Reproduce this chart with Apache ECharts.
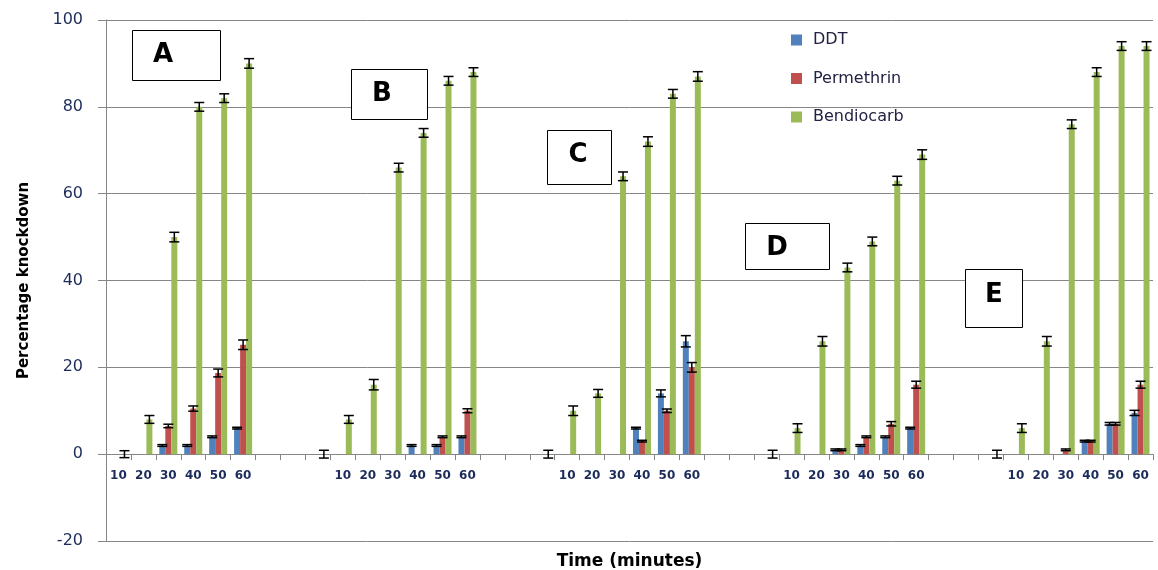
<!DOCTYPE html>
<html>
<head>
<meta charset="utf-8">
<title>Percentage knockdown over time</title>
<script src="https://cdn.jsdelivr.net/npm/echarts@6/dist/echarts.min.js"></script>
<style>
  html, body { margin: 0; padding: 0; background: #ffffff; }
  #chart { width: 1158px; height: 570px; }
</style>
</head>
<body>
<div id="chart"></div>
<script>
// Time labels for each slot on the category axis ('' = unlabelled slot)
const timeLabels = [
  '10','20','30','40','50','60',
  '','','',
  '10','20','30','40','50','60',
  '','','',
  '10','20','30','40','50','60',
  '','','',
  '10','20','30','40','50','60',
  '','','',
  '10','20','30','40','50','60'
];

// Panel letters A–E
const panelLetters = ['A', 'B', 'C', 'D', 'E'];

const seriesNames = ['DDT', 'Permethrin', 'Bendiocarb'];

// Mean knockdown (%) per slot, null where no bar is drawn
const ddt = [
  null, null, 2, 2, 4, 6,
  null, null, null,
  null, null, null, 2, 2, 4,
  null, null, null,
  null, null, null, 6, 14, 26,
  null, null, null,
  null, null, 1, 2, 4, 6,
  null, null, null,
  null, null, null, 3, 7, 9.5
];
const permethrin = [
  null, null, 6.5, 10.5, 18.7, 25.2,
  null, null, null,
  null, null, null, null, 4, 10,
  null, null, null,
  null, null, null, 3, 10, 20,
  null, null, null,
  null, null, 1, 4, 7, 16,
  null, null, null,
  null, null, 1, 3, 7, 16
];
const bendiocarb = [
  0, 8, 50, 80, 82, 90,
  null, null, 0,
  8, 16, 66, 74, 86, 88,
  null, null, 0,
  10, 14, 64, 72, 83, 87,
  null, null, 0,
  6, 26, 43, 49, 63, 69,
  null, null, 0,
  6, 26, 76, 88, 94, 94
];

// Error bar half-widths (±) per slot
const ddtErr = [
  null, null, 0.2, 0.2, 0.2, 0.2,
  null, null, null,
  null, null, null, 0.2, 0.2, 0.2,
  null, null, null,
  null, null, null, 0.2, 0.8, 1.3,
  null, null, null,
  null, null, 0.2, 0.2, 0.2, 0.2,
  null, null, null,
  null, null, null, 0.2, 0.3, 0.6
];
const permethrinErr = [
  null, null, 0.4, 0.6, 0.9, 1.1,
  null, null, null,
  null, null, null, null, 0.2, 0.45,
  null, null, null,
  null, null, null, 0.2, 0.4, 1.1,
  null, null, null,
  null, null, 0.2, 0.2, 0.5, 0.8,
  null, null, null,
  null, null, 0.2, 0.2, 0.3, 0.8
];
const bendiocarbErr = [
  0.8, 0.9, 1.1, 1, 1, 1.1,
  null, null, 0.9,
  0.9, 1.2, 1, 1, 1, 1,
  null, null, 0.9,
  1.1, 0.9, 1, 1.1, 1, 1.1,
  null, null, 0.9,
  1, 1.1, 1, 1, 1, 1.1,
  null, null, 0.9,
  1, 1.1, 1, 1, 1, 1
];

const yTicks = { min: -20, max: 100, step: 20 };

const colors = ['#4F81BD', '#C0504D', '#9BBB59'];
const BAR_W = 6;
const GRID_GRAY = '#868686';
const LABEL_COLOR = '#1c2b5a';

const slots = timeLabels.map((t, i) => 'slot' + i);
const values = [ddt, permethrin, bendiocarb];
const errors = [ddtErr, permethrinErr, bendiocarbErr];

function errorSeries(k) {
  const data = [];
  values[k].forEach((v, i) => {
    if (v !== null && errors[k][i] !== null) data.push([i, v, errors[k][i]]);
  });
  const offset = (k - 1) * BAR_W;
  return {
    name: seriesNames[k] + ' error',
    type: 'custom',
    z: 5,
    silent: true,
    encode: { x: 0, y: 1 },
    data: data,
    renderItem: function (params, api) {
      const idx = api.value(0), v = api.value(1), e = api.value(2);
      const hi = api.coord([idx, v + e]);
      const lo = api.coord([idx, v - e]);
      const x = hi[0] + offset;
      const half = 5;
      const st = { stroke: '#000', lineWidth: 1.5 };
      return {
        type: 'group',
        children: [
          { type: 'line', shape: { x1: x, y1: hi[1], x2: x, y2: lo[1] }, style: st },
          { type: 'line', shape: { x1: x - half, y1: hi[1], x2: x + half, y2: hi[1] }, style: st },
          { type: 'line', shape: { x1: x - half, y1: lo[1], x2: x + half, y2: lo[1] }, style: st }
        ]
      };
    }
  };
}

// Framed panel letters
const panelBoxes = [
  { x: 132, y: 30, w: 88, h: 50, tx: 163, ty: 55 },
  { x: 351, y: 69, w: 76, h: 50, tx: 382, ty: 94 },
  { x: 547, y: 130, w: 64, h: 54, tx: 578, ty: 155 },
  { x: 745, y: 223, w: 84, h: 46, tx: 777, ty: 248 },
  { x: 965, y: 269, w: 57, h: 58, tx: 994, ty: 295 }
];
const graphics = [];
panelBoxes.forEach((b, i) => {
  graphics.push({
    type: 'rect', z: 100,
    shape: { x: b.x + 0.5, y: b.y + 0.5, width: b.w, height: b.h },
    style: { fill: '#ffffff', stroke: '#000000', lineWidth: 1 }
  });
  graphics.push({
    type: 'text', z: 101,
    x: b.tx, y: b.ty,
    style: {
      text: panelLetters[i], fill: '#000000',
      font: 'bold 26px "DejaVu Sans"',
      textAlign: 'center', textVerticalAlign: 'middle'
    }
  });
});

const chart = echarts.init(document.getElementById('chart'), null, { renderer: 'canvas' });

chart.setOption({
  animation: false,
  backgroundColor: '#ffffff',
  color: colors,
  grid: { left: 106, right: 5, top: 20, bottom: 29, containLabel: false, outerBoundsMode: 'none' },
  legend: {
    data: seriesNames,
    orient: 'vertical',
    left: 786,
    top: 26,
    itemWidth: 11,
    itemHeight: 11,
    itemGap: 20.5,
    icon: 'rect',
    selectedMode: false,
    textStyle: {
      fontFamily: 'DejaVu Sans', fontSize: 16, color: '#222244',
      lineHeight: 18, padding: [0, 0, 0, 6]
    }
  },
  xAxis: {
    type: 'category',
    data: slots,
    boundaryGap: true,
    name: 'Time (minutes)',
    nameLocation: 'middle',
    nameGap: 12,
    nameTextStyle: { fontFamily: 'DejaVu Sans', fontWeight: 'bold', fontSize: 17, color: '#000' },
    axisLine: { onZero: true, lineStyle: { color: GRID_GRAY, width: 1 } },
    axisTick: { show: true, interval: 0, length: 6, lineStyle: { color: GRID_GRAY } },
    axisLabel: {
      interval: 0,
      margin: -71,
      fontFamily: 'DejaVu Sans', fontWeight: 'bold', fontSize: 12, color: LABEL_COLOR,
      formatter: (val, idx) => timeLabels[idx]
    },
    splitLine: { show: false }
  },
  yAxis: {
    type: 'value',
    min: yTicks.min,
    max: yTicks.max,
    interval: yTicks.step,
    name: 'Percentage knockdown',
    nameLocation: 'middle',
    nameGap: 74,
    nameRotate: 90,
    nameTextStyle: { fontFamily: 'DejaVu Sans', fontWeight: 'bold', fontSize: 15, color: '#000' },
    axisLine: { show: true, lineStyle: { color: GRID_GRAY, width: 1 } },
    axisTick: { show: true, length: 8, lineStyle: { color: GRID_GRAY } },
    axisLabel: { margin: 23, fontFamily: 'DejaVu Sans', fontSize: 16, color: LABEL_COLOR },
    splitLine: { show: true, lineStyle: { color: GRID_GRAY, width: 1 } }
  },
  series: [
    { name: seriesNames[0], type: 'bar', data: ddt, barWidth: BAR_W, barGap: '0%' },
    { name: seriesNames[1], type: 'bar', data: permethrin, barWidth: BAR_W, barGap: '0%' },
    { name: seriesNames[2], type: 'bar', data: bendiocarb, barWidth: BAR_W, barGap: '0%' },
    errorSeries(0),
    errorSeries(1),
    errorSeries(2)
  ],
  graphic: graphics
});
</script>
</body>
</html>
